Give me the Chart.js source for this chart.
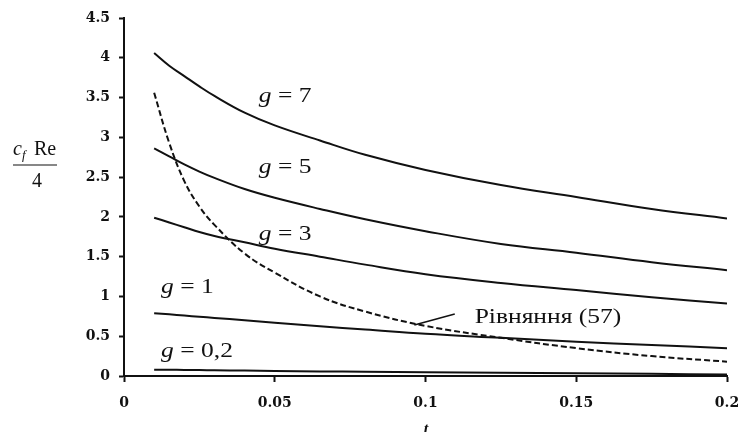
<!DOCTYPE html>
<html>
<head>
<meta charset="utf-8">
<script src="https://cdn.jsdelivr.net/npm/chart.js@4/dist/chart.umd.min.js"></script>
<style>
  html, body { margin: 0; padding: 0; background: #fff; }
  #chart { display: block; }
  .warm { position: absolute; left: -999px; font-family: "Liberation Serif"; }
</style>
</head>
<body>
<span class="warm">g = 7 <i>g</i> <b>0</b></span>
<canvas id="chart" width="739" height="432"></canvas>
<script>
// t values (common sample points for all curves)
const tValues = [0.01, 0.015, 0.02, 0.025, 0.03, 0.04, 0.05, 0.065, 0.08, 0.1, 0.125, 0.15, 0.175, 0.2];

// cfRe/4 for each g
const g7  = [4.06, 3.90, 3.77, 3.64, 3.52, 3.31, 3.15, 2.96, 2.78, 2.59, 2.40, 2.25, 2.10, 1.98];
const g5  = [2.86, 2.76, 2.66, 2.57, 2.49, 2.35, 2.24, 2.10, 1.97, 1.82, 1.66, 1.55, 1.43, 1.33];
const g3  = [1.99, 1.93, 1.87, 1.81, 1.76, 1.68, 1.60, 1.50, 1.40, 1.28, 1.17, 1.08, 0.99, 0.91];
const g1  = [0.79, 0.775, 0.76, 0.745, 0.73, 0.70, 0.67, 0.625, 0.585, 0.53, 0.48, 0.43, 0.39, 0.35];
const g02 = [0.08, 0.078, 0.076, 0.074, 0.072, 0.068, 0.064, 0.058, 0.053, 0.047, 0.04, 0.034, 0.027, 0.02];
// Рівняння (57), dashed
const eq57 = [3.56, 2.93, 2.45, 2.13, 1.90, 1.54, 1.30, 1.00, 0.81, 0.63, 0.48, 0.35, 0.25, 0.18];

// leader line for the equation label
const leaderT = [0.0963, 0.1097];
const leaderV = [0.64, 0.78];

const xTicks = [0, 0.05, 0.1, 0.15, 0.2];

const serif = '"Liberation Serif", "Times New Roman", Times, serif';

function toPoints(xs, ys) {
  return xs.map((x, i) => ({ x: x, y: ys[i] }));
}

function solid(data) {
  return {
    data: toPoints(tValues, data),
    borderColor: '#111',
    borderWidth: 2,
    pointRadius: 0,
    tension: 0.4,
    fill: false
  };
}

// curve labels, anchored in data units (t, value at baseline)
const curveLabels = [
  { t: 0.0447, v: 3.44, text: '7' },
  { t: 0.0447, v: 2.55, text: '5' },
  { t: 0.0447, v: 1.71, text: '3' },
  { t: 0.0123, v: 1.04, text: '1' },
  { t: 0.0123, v: 0.24, text: '0,2' }
];

const textStretch = 1.16;

const annotations = {
  id: 'annotations',
  afterDatasetsDraw(chart) {
    const ctx = chart.ctx;
    const xs = chart.scales.x;
    const ys = chart.scales.y;
    ctx.save();
    ctx.fillStyle = '#111';
    ctx.textBaseline = 'alphabetic';
    ctx.textAlign = 'left';

    curveLabels.forEach(l => {
      const px = xs.getPixelForValue(l.t);
      const py = ys.getPixelForValue(l.v);
      ctx.save();
      ctx.translate(px, py);
      ctx.scale(textStretch, 1);
      ctx.font = 'italic 22px ' + serif;
      ctx.fillText('g', 0, 0);
      const w = ctx.measureText('g').width;
      ctx.font = '22px ' + serif;
      ctx.fillText(' = ' + l.text, w, 0);
      ctx.restore();
    });

    // equation label
    ctx.save();
    ctx.translate(xs.getPixelForValue(0.1163), ys.getPixelForValue(0.67));
    ctx.scale(textStretch, 1);
    ctx.font = '22px ' + serif;
    ctx.fillText('Рівняння (57)', 0, 0);
    ctx.restore();

    // y axis title: cf Re / 4
    ctx.font = 'italic 20px ' + serif;
    ctx.fillText('c', 13, 155);
    ctx.font = 'italic 13px ' + serif;
    ctx.fillText('f', 22, 159);
    ctx.font = '20px ' + serif;
    ctx.fillText('Re', 34, 155);
    ctx.strokeStyle = '#111';
    ctx.lineWidth = 1.2;
    ctx.beginPath();
    ctx.moveTo(13, 165);
    ctx.lineTo(57, 165);
    ctx.stroke();
    ctx.textAlign = 'center';
    ctx.fillText('4', 37, 187);

    // x axis title
    ctx.font = 'italic bold 16px ' + serif;
    ctx.fillText('t', 426, 434);
    ctx.restore();
  }
};

const ctx = document.getElementById('chart').getContext('2d');
const chart = new Chart(ctx, {
  type: 'line',
  data: {
    datasets: [
      solid(g7),
      solid(g5),
      solid(g3),
      solid(g1),
      solid(g02),
      {
        data: toPoints(tValues, eq57),
        borderColor: '#111',
        borderWidth: 2,
        borderDash: [6, 3],
        pointRadius: 0,
        tension: 0.4,
        fill: false
      },
      {
        data: toPoints(leaderT, leaderV),
        borderColor: '#111',
        borderWidth: 1.5,
        pointRadius: 0,
        fill: false
      }
    ]
  },
  options: {
    responsive: false,
    animation: false,
    layout: { padding: { top: 18, right: 12, left: 0, bottom: 0 } },
    plugins: {
      legend: { display: false },
      tooltip: { enabled: false }
    },
    scales: {
      x: {
        type: 'linear',
        min: 0,
        max: 0.2,
        afterBuildTicks: scale => { scale.ticks = xTicks.map(v => ({ value: v })); },
        afterFit: scale => {
          scale.height = 56;
          scale.paddingLeft = 0;
          scale.paddingRight = 0;
        },
        grid: {
          drawOnChartArea: false,
          drawTicks: true,
          tickLength: 6,
          tickColor: '#111',
          tickWidth: 2
        },
        border: { display: true, color: '#111', width: 2 },
        ticks: {
          color: '#111',
          padding: 13,
          maxRotation: 0,
          font: { family: 'DejaVu Serif', size: 14, weight: 'bold' },
          callback: v => String(+v.toFixed(2))
        }
      },
      y: {
        min: 0,
        max: 4.5,
        afterFit: scale => {
          scale.width = 124;
          scale.paddingTop = 0;
          scale.paddingBottom = 0;
        },
        grid: {
          drawOnChartArea: false,
          drawTicks: true,
          tickLength: 5,
          tickColor: '#111',
          tickWidth: 2
        },
        border: { display: true, color: '#111', width: 2 },
        ticks: {
          stepSize: 0.5,
          color: '#111',
          padding: 9,
          font: { family: 'DejaVu Serif', size: 14, weight: 'bold' },
          callback: v => String(+v.toFixed(2))
        }
      }
    }
  },
  plugins: [annotations]
});
</script>
</body>
</html>
